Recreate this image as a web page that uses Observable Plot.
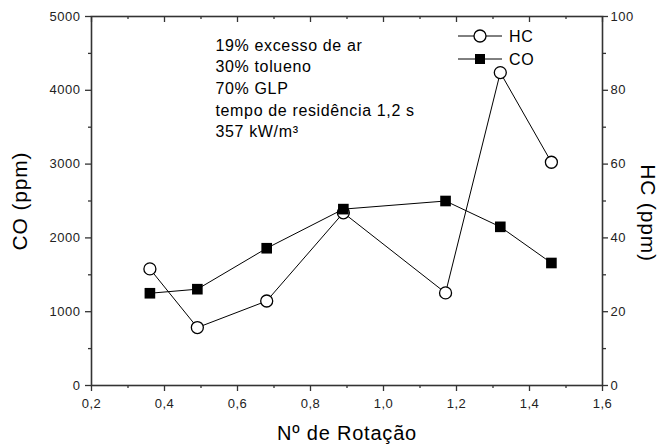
<!DOCTYPE html>
<html><head><meta charset="utf-8">
<script src="https://cdn.jsdelivr.net/npm/d3@7"></script>
<script src="https://cdn.jsdelivr.net/npm/@observablehq/plot@0.6"></script>
<style>
html,body{margin:0;padding:0;background:#fff;}
#chart{width:659px;height:445px;}
#chart svg{font-family:"Liberation Sans",Arial,sans-serif;}
#chart svg text{letter-spacing:0.04em;}
</style>
</head><body><div id="chart"></div>
<script>
// ---- data ----
const rotation = [0.36, 0.49, 0.68, 0.89, 1.17, 1.32, 1.46];
const coPpm = [1250, 1305, 1860, 2390, 2500, 2150, 1660];
const hcPpm = [31.6, 15.7, 22.9, 46.8, 25.1, 84.8, 60.5];
const xTicks = [0.2, 0.4, 0.6, 0.8, 1.0, 1.2, 1.4, 1.6];
const xMinorTicks = [0.3, 0.5, 0.7, 0.9, 1.1, 1.3, 1.5];
const coTicks = [0, 1000, 2000, 3000, 4000, 5000];
const coMinorTicks = [500, 1500, 2500, 3500, 4500];
const hcTicks = [0, 20, 40, 60, 80, 100];
const hcMinorTicks = [10, 30, 50, 70, 90];
const xDomain = [0.2, 1.6];
const coDomain = [0, 5000];
const hcDomain = [0, 100];
const notes = ["19% excesso de ar", "30% tolueno", "70% GLP", "tempo de residência 1,2 s", "357 kW/m³"];
const seriesNames = ["HC", "CO"];
const xLabel = "Nº de Rotação";
const coLabel = "CO (ppm)";
const hcLabel = "HC (ppm)";

// ---- build ----
const k = (coDomain[1] - coDomain[0]) / (hcDomain[1] - hcDomain[0]);
const hcRows = rotation.map((x, i) => ({x, y: hcPpm[i] * k}));
const coRows = rotation.map((x, i) => ({x, y: coPpm[i]}));
const comma = d => d.toFixed(1).replace(".", ",");

const W = 659, H = 445, mL = 91, mR = 57, mT = 16, mB = 60;
const frameH = H - mT - mB;
const axisColor = "#333";

function legend(index, scales, values, dim) {
  const g = d3.create("svg:g");
  const xr = dim.width - dim.marginRight;
  const cx = xr - 122, ys = [dim.marginTop + 20, dim.marginTop + 43];
  seriesNames.forEach((name, i) => {
    const y = ys[i];
    g.append("line").attr("x1", cx - 22).attr("x2", cx + 22).attr("y1", y).attr("y2", y)
      .attr("stroke", "black").attr("stroke-width", 1);
    if (i === 0) {
      g.append("circle").attr("cx", cx).attr("cy", y).attr("r", 6)
        .attr("fill", "white").attr("stroke", "black").attr("stroke-width", 1.3);
    } else {
      g.append("rect").attr("x", cx - 5).attr("y", y - 5).attr("width", 10).attr("height", 10)
        .attr("fill", "black");
    }
    g.append("text").attr("x", cx + 29).attr("y", y).attr("dy", "0.35em")
      .attr("text-anchor", "start")
      .attr("font-size", 16).attr("fill", "black").text(name);
  });
  return g.node();
}

const chart = Plot.plot({
  width: W, height: H,
  marginLeft: mL, marginRight: mR, marginTop: mT, marginBottom: mB,
  style: {fontFamily: "Liberation Sans, Arial, sans-serif", fontSize: "13px", color: "#222", background: "white"},
  x: {domain: xDomain},
  y: {domain: coDomain},
  marks: [
    // bottom axis
    Plot.axisX({ticks: xTicks, tickFormat: comma, tickSize: 6, tickPadding: 7, stroke: axisColor, strokeWidth: 1.3, label: null}),
    Plot.axisX({ticks: xMinorTicks, tickSize: 3, fill: "none", stroke: axisColor, strokeWidth: 1.3, label: null}),
    // top inward ticks
    Plot.tickX(xTicks, {x: d => d, insetBottom: frameH - 6, stroke: axisColor, strokeWidth: 1.3}),
    Plot.tickX(xMinorTicks, {x: d => d, insetBottom: frameH - 3, stroke: axisColor, strokeWidth: 1.3}),
    // left axis
    Plot.axisY({ticks: coTicks, tickFormat: d => String(d), tickSize: 6, tickPadding: 5, stroke: axisColor, strokeWidth: 1.3, label: null}),
    Plot.axisY({ticks: coMinorTicks, tickSize: 3, fill: "none", stroke: axisColor, strokeWidth: 1.3, label: null}),
    // right axis (HC)
    Plot.axisY({anchor: "right", ticks: hcTicks.map(v => v * k), tickFormat: v => String(Math.round(v / k)), tickSize: 5, tickPadding: 3, stroke: axisColor, strokeWidth: 1.3, label: null}),
    Plot.axisY({anchor: "right", ticks: hcMinorTicks.map(v => v * k), tickSize: 3, fill: "none", stroke: axisColor, strokeWidth: 1.3, label: null}),
    Plot.frame({stroke: axisColor, strokeWidth: 1.6}),
    // HC series
    Plot.line(hcRows, {x: "x", y: "y", stroke: "black", strokeWidth: 1}),
    Plot.dot(hcRows, {x: "x", y: "y", r: 6, fill: "white", stroke: "black", strokeWidth: 1.3}),
    // CO series
    Plot.line(coRows, {x: "x", y: "y", stroke: "black", strokeWidth: 1}),
    Plot.dot(coRows, {x: "x", y: "y", symbol: "square", r: 6, fill: "black", stroke: "none"}),
    // annotation
    Plot.text([notes.join("\n")], {frameAnchor: "top-left", textAnchor: "start", lineAnchor: "top", dx: 124, dy: 19, lineHeight: 1.35, fontSize: 16, fill: "black"}),
    // axis titles
    Plot.text([xLabel], {frameAnchor: "bottom", textAnchor: "middle", lineAnchor: "middle", dy: 48, fontSize: 20, fill: "black"}),
    Plot.text([coLabel], {frameAnchor: "left", textAnchor: "middle", lineAnchor: "middle", rotate: -90, dx: -71, fontSize: 21, fill: "black"}),
    Plot.text([hcLabel], {frameAnchor: "right", textAnchor: "middle", lineAnchor: "middle", rotate: 90, dx: 45, dy: 12, fontSize: 21, fill: "black"}),
    legend
  ]
});
document.getElementById("chart").appendChild(chart);
</script>
</body></html>
